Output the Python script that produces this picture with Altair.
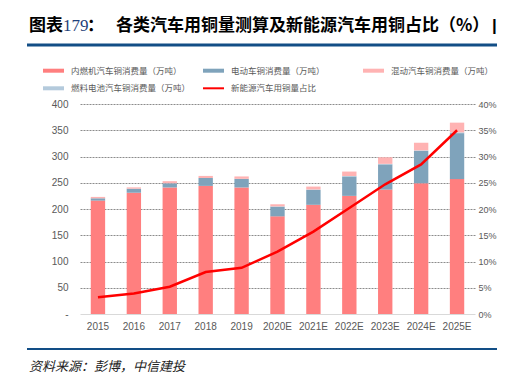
import altair as alt
import pandas as pd

years = ["2015", "2016", "2017", "2018", "2019", "2020E", "2021E", "2022E", "2023E", "2024E", "2025E"]
ice = [216, 231, 241, 244, 241, 186, 208, 225, 237, 249, 257]
ev = [4.4, 7.7, 8, 15, 16.5, 18.5, 28.5, 37, 48, 61.5, 87.5]
fuel = [0, 0, 0, 0, 0, 0.5, 0.7, 0.8, 1.0, 1.2, 1.5]
hybrid = [2.6, 2.5, 4, 4, 4.5, 4, 5.5, 8.5, 12.5, 14.5, 18.5]
share = [3.2, 3.9, 5.2, 8.0, 8.8, 11.9, 15.7, 20.2, 24.7, 28.5, 35.0]

names = ["内燃机汽车铜消费量（万吨）", "电动车铜消费量（万吨）", "燃料电池汽车铜消费量（万吨）", "混动汽车铜消费量（万吨）"]
colors = ["#FF7F7F", "#7FA3BB", "#B4CADC", "#FFB3B3"]
line_name = "新能源汽车用铜量占比"
line_color = "#FF0000"

rows = []
for k, series in enumerate([ice, ev, fuel, hybrid]):
    for y, v in zip(years, series):
        rows.append({"year": y, "series": names[k], "value": v, "ord": k})
bars_df = pd.DataFrame(rows)
line_df = pd.DataFrame({"year": years, "share": share})

FONT = "Liberation Sans"
CJK = "Noto Sans CJK SC"
GRAY = "#595959"

x_enc = alt.X("year:N", sort=years,
              scale=alt.Scale(paddingInner=0.6, paddingOuter=0.3),
              axis=alt.Axis(title=None, labelAngle=0, ticks=False, domainColor="#D9D9D9",
                            labelPadding=7, labelColor=GRAY, labelFontSize=10, labelFont=FONT))

bars = alt.Chart(bars_df).mark_bar().encode(
    x=x_enc,
    y=alt.Y("sum(value):Q", stack="zero",
            scale=alt.Scale(domain=[0, 400], nice=False),
            axis=alt.Axis(title=None, values=list(range(0, 401, 50)), ticks=False, domain=False,
                          labelPadding=12, labelColor=GRAY, labelFontSize=10, labelFont=FONT,
                          labelExpr="datum.value == 0 ? '-' : datum.label",
                          grid=True, gridColor="#8C8C8C", gridDash=[2, 1], gridWidth=1,
                          gridOpacity={"condition": {"test": "datum.value === 0", "value": 0}, "value": 1})),
    color=alt.Color("series:N", scale=alt.Scale(domain=names, range=colors), legend=None),
    order=alt.Order("ord:Q", sort="ascending"),
)

line = alt.Chart(line_df).mark_line(color=line_color, strokeWidth=2.5).encode(
    x=alt.X("year:N", sort=years),
    y=alt.Y("share:Q", scale=alt.Scale(domain=[0, 40], nice=False),
            axis=alt.Axis(title=None, orient="right", values=list(range(0, 41, 5)), ticks=False,
                          domain=False, grid=False, labelPadding=3, labelColor=GRAY,
                          labelFontSize=9, labelFont=FONT,
                          labelExpr="datum.value + '%'")),
)

one = pd.DataFrame({"a": [0]})

def text(t, x, y, size, color="#000000", font=CJK, weight="normal", style="normal"):
    return alt.Chart(one).mark_text(text=t, align="left", baseline="middle", fontSize=size,
                                    color=color, font=font, fontWeight=weight, fontStyle=style).encode(
        x=alt.value(x), y=alt.value(y))

def rule(x1, x2, y, color, width):
    return alt.Chart(one).mark_rule(color=color, strokeWidth=width).encode(
        x=alt.value(x1), x2=alt.value(x2), y=alt.value(y))

deco = [
    text("图表", -51, -78.5, 17, weight="bold"),
    text("179", -17, -78.5, 17, color="#1F3F7A", font="Liberation Serif"),
    text("：", 7, -78.5, 17, weight="bold"),
    text("各类汽车用铜量测算及新能源汽车用铜占比（%）", 36, -78.5, 17, weight="bold"),
    text("|", 412, -78.5, 17, weight="bold", font=FONT),
    rule(-53, 425, -59, "#124E86", 3),
    rule(-53, 425, 245, "#124E86", 2),
    text("资料来源：彭博，中信建投", -51, 262.5, 13, color="#222222", style="italic"),
]

legend_items = [
    (names[0], colors[0], -37, -33.3, 4),
    (names[1], colors[1], 123, -33.3, 4),
    (names[3], colors[3], 283, -33.3, 4),
    (names[2], colors[2], -37, -15.7, 4),
    (line_name, line_color, 123, -15.7, 2),
]
for label, col, lx, ly, w in legend_items:
    deco.append(rule(lx, lx + 21, ly, col, w))
    deco.append(text(label, lx + 28, ly, 8.5, color=GRAY))

chart = alt.layer(bars, line, *deco).resolve_scale(y="independent").properties(
    width=395, height=210,
    padding={"left": 72, "top": 96, "right": 22, "bottom": 60},
    autosize=alt.AutoSizeParams(type="none"),
).configure_view(strokeWidth=0)

chart.save("out.html", embed_options={"renderer": "svg", "actions": False})
